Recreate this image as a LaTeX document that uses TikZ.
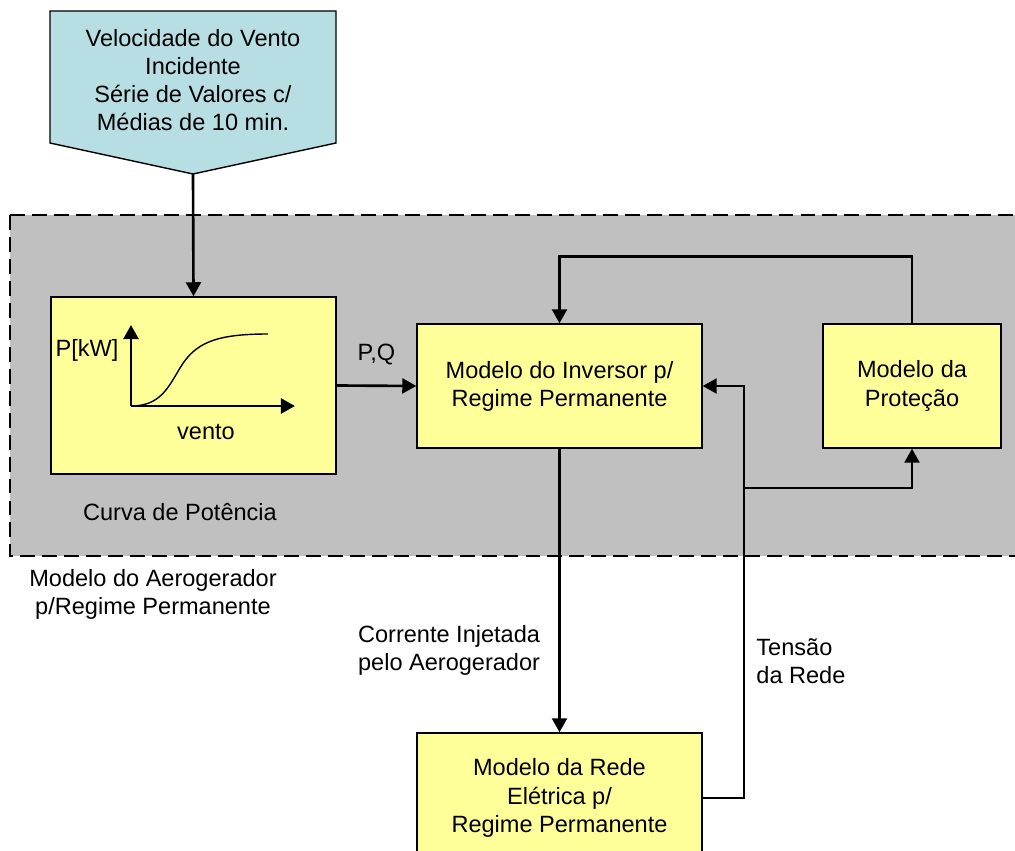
\documentclass[tikz,border=0pt]{standalone}
\usepackage{fontspec}
\setmainfont{Liberation Sans}
\usetikzlibrary{arrows.meta,positioning,calc}
\definecolor{regiongray}{RGB}{192,192,192}
\definecolor{blockyellow}{RGB}{255,255,153}
\definecolor{inputcyan}{RGB}{183,222,227}

\begin{document}
\begin{tikzpicture}[
        x=0.02cm, y=-0.02cm,
        font=\fontsize{13.4}{16}\selectfont,
        block/.style={rectangle, draw=black, line width=0.8pt, fill=blockyellow, align=center, inner sep=0pt},
        arrow/.style={-{Triangle[length=8pt,width=8.5pt]}, line width=1.5pt},
        region/.style={fill=regiongray, line width=1.5pt, dash pattern=on 8.5pt off 4pt}
    ]
        \path[use as bounding box, clip] (0,0) rectangle (1015,851);

        % Region
        \draw[region] (10,215) rectangle (1060,556);

        % Input
        \draw[fill=inputcyan, line width=0.8pt] (50,11) -- (336,11) -- (336,143) -- (193,174) -- (50,143) -- cycle;
        \coordinate (vtip) at (193,174);
        \node[align=center] (vento) at (193,80) {Velocidade do Vento\\Incidente\\Série de Valores c/\\Médias de 10 min.};

        % Nodes
        \node[block, minimum width=5.7cm, minimum height=3.54cm] (curva) at (193.5,385.5) {};
        \node[block, minimum width=5.7cm, minimum height=2.48cm] (inv) at (559.5,386) {Modelo do Inversor p/\\Regime Permanente};
        \node[block, minimum width=3.56cm, minimum height=2.48cm] (prot) at (912,386) {Modelo da\\Proteção};
        \node[block, minimum width=5.7cm, minimum height=2.6cm] (rede) at (559.5,798) {Modelo da Rede\\Elétrica p/\\Regime Permanente};

        % Power curve
        \coordinate (orig) at (131,406);
        \draw[arrow] (orig) -- (131,325);
        \draw[arrow] (orig) -- (295,406);
        \draw[line width=0.8pt] (orig) .. controls (160,406) and (168,388) .. (180,368) .. controls (195,343) and (215,334) .. (268,334);
        \node (pkw) at (87,350) {P[kW]};
        \node (eixo) at (206,432) {vento};

        % Labels
        \node (curvalbl) at (180,512) {Curva de Potência};
        \node[align=center] (aerolbl) at (153,594) {Modelo do Aerogerador\\p/Regime Permanente};

        % Connectors
        \draw[arrow] (vtip) -- (curva.north);
        \draw[arrow] (curva.east) -- node[above=8pt, midway] {P,Q} (inv.west);
        \draw[arrow] (prot.north) -- ++(0,-67) -| (inv.north);
        \draw[arrow] (inv.south) -- node[left=7pt, pos=0.71, align=center] {Corrente Injetada\\pelo Aerogerador} (rede.north);
        \coordinate (tap) at (744,488);
        \draw[arrow] (rede.east) -| node[right=3pt, pos=0.72, align=left] {Tensão\\da Rede} (tap) |- (inv.east);
        \draw[arrow] (tap) -| (prot.south);

    \end{tikzpicture}
\end{document}
